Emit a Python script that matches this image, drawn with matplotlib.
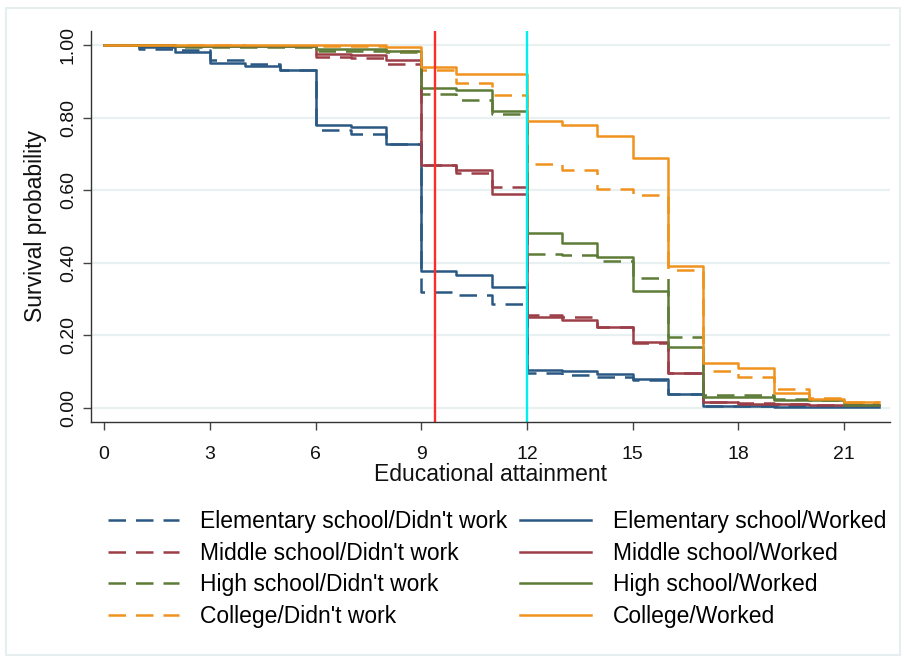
import matplotlib
matplotlib.use("Agg")
import matplotlib.pyplot as plt

plt.rcParams['font.family'] = ['Liberation Sans', 'DejaVu Sans']

times = list(range(23))

elem_didnt = [1.0, 0.991, 0.986, 0.959, 0.948, 0.933, 0.766, 0.755, 0.727, 0.320, 0.311, 0.286,
              0.096, 0.091, 0.086, 0.077, 0.039, 0.005, 0.004, 0.004, 0.004, 0.004, 0.004]
elem_worked = [1.0, 0.995, 0.982, 0.951, 0.942, 0.931, 0.780, 0.775, 0.727, 0.378, 0.366, 0.334,
               0.105, 0.103, 0.094, 0.079, 0.039, 0.004, 0.004, 0.003, 0.003, 0.003, 0.003]
mid_didnt = [1.0, 1.0, 0.999, 0.999, 0.999, 0.999, 0.968, 0.966, 0.949, 0.669, 0.648, 0.608,
             0.256, 0.250, 0.224, 0.180, 0.097, 0.017, 0.013, 0.010, 0.009, 0.008, 0.008]
mid_worked = [1.0, 1.0, 0.999, 0.999, 0.999, 0.999, 0.975, 0.973, 0.960, 0.669, 0.657, 0.591,
              0.252, 0.241, 0.222, 0.183, 0.096, 0.015, 0.012, 0.010, 0.008, 0.007, 0.007]
high_didnt = [1.0, 0.999, 0.996, 0.996, 0.996, 0.996, 0.984, 0.984, 0.982, 0.865, 0.850, 0.810,
              0.424, 0.421, 0.406, 0.357, 0.195, 0.036, 0.036, 0.025, 0.022, 0.010, 0.010]
high_worked = [1.0, 1.0, 0.999, 0.999, 0.999, 0.999, 0.990, 0.990, 0.985, 0.883, 0.878, 0.819,
               0.481, 0.454, 0.415, 0.323, 0.167, 0.031, 0.031, 0.022, 0.022, 0.008, 0.008]
coll_didnt = [1.0, 1.0, 1.0, 1.0, 0.999, 0.999, 0.999, 0.998, 0.985, 0.933, 0.896, 0.862,
              0.672, 0.656, 0.605, 0.587, 0.380, 0.103, 0.086, 0.051, 0.026, 0.017, 0.017]
coll_worked = [1.0, 1.0, 1.0, 1.0, 1.0, 1.0, 1.0, 1.0, 0.994, 0.940, 0.922, 0.922,
               0.791, 0.781, 0.749, 0.688, 0.391, 0.125, 0.109, 0.040, 0.024, 0.017, 0.017]

labels_didnt = ["Elementary school/Didn't work", "Middle school/Didn't work",
                "High school/Didn't work", "College/Didn't work"]
labels_worked = ["Elementary school/Worked", "Middle school/Worked",
                 "High school/Worked", "College/Worked"]

vline_red = 9.4
vline_cyan = 12.0

xticks = [0, 3, 6, 9, 12, 15, 18, 21]
yticks = [0.0, 0.2, 0.4, 0.6, 0.8, 1.0]
ytick_labels = ["0.00", "0.20", "0.40", "0.60", "0.80", "1.00"]

colors = ["#2b5882", "#9c3e47", "#5d7c38", "#f0921e"]

fig = plt.figure(figsize=(9.03, 6.62), dpi=100)
ax = fig.add_axes([0.1004, 0.3625, 0.8852, 0.591])

for y in yticks:
    ax.axhline(y, color="#e9f0f2", lw=1.6, zorder=0)

didnt = [elem_didnt, mid_didnt, high_didnt, coll_didnt]
worked = [elem_worked, mid_worked, high_worked, coll_worked]
handles_d = []
handles_w = []
for i in range(4):
    h, = ax.step(times, didnt[i], where="post", color=colors[i], lw=1.8,
                 dashes=(7, 4), label=labels_didnt[i])
    handles_d.append(h)
for i in range(4):
    h, = ax.step(times, worked[i], where="post", color=colors[i], lw=1.8,
                 label=labels_worked[i])
    handles_w.append(h)

ax.axvline(vline_red, color="#ff2a2a", lw=1.7)
ax.axvline(vline_cyan, color="#00f0f0", lw=1.7)

ax.set_xlim(-0.38, 22.3)
ax.set_ylim(-0.039, 1.04)
ax.set_xticks(xticks)
ax.set_yticks(yticks)
ax.set_yticklabels(ytick_labels, rotation=90, va="center")
ax.tick_params(axis="both", labelsize=14, length=6, width=1, color="#444444", labelcolor="#111111")
ax.tick_params(axis="x", pad=11)
ax.tick_params(axis="y", pad=4)
for s in ["top", "right"]:
    ax.spines[s].set_visible(False)
for s in ["left", "bottom"]:
    ax.spines[s].set_color("#333333")
    ax.spines[s].set_linewidth(1.0)

ax.set_xlabel("Educational attainment", fontsize=16.5, color="#111111", labelpad=0)
ax.set_ylabel("Survival probability", fontsize=16.5, color="#111111", labelpad=9)

fig.legend(handles_d + handles_w, labels_didnt + labels_worked, ncol=2,
           loc="upper left", bbox_to_anchor=(0.1196, 0.2295), frameon=False,
           fontsize=16.5, handlelength=3.1, handletextpad=0.92, columnspacing=0.57,
           labelspacing=0.38, borderpad=0, borderaxespad=0)

fig.patches.append(matplotlib.patches.Rectangle((0.007, 0.01), 0.99, 0.978,
                   transform=fig.transFigure, fill=False, edgecolor="#e6eef0", lw=1.5))

fig.savefig("out.png", dpi=100)
